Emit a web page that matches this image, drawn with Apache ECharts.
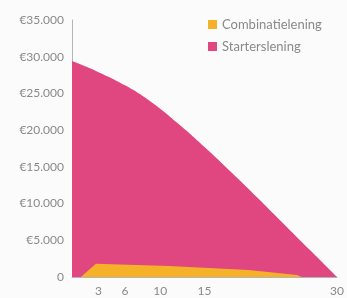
<!DOCTYPE html>
<html>
<head>
<meta charset="utf-8">
<script src="https://cdn.jsdelivr.net/npm/echarts@6/dist/echarts.min.js"></script>
<style>
html, body { margin: 0; padding: 0; background: #fcfbfc; }
#chart { width: 347px; height: 298px; }
</style>
</head>
<body>
<div id="chart"></div>
<script>
// jaren (x) en restschuld in euro's (y)
let starterYears = [0, 3, 6, 9, 12, 15, 18, 21, 24, 27, 30];
let starterValues = [29400, 27900, 26100, 23800, 20900, 17700, 14300, 10800, 7200, 3600, 0];

let combiYears = [1, 2.7, 11, 20, 25.5, 26];
let combiValues = [0, 1800, 1500, 950, 280, 0];

let xTickLabels = [3, 6, 10, 15, 30];
let legendNames = ['Combinatielening', 'Starterslening'];

let pink = '#e0467f';
let orange = '#f5b12a';
let textColor = '#8a8a8a';
let fontFamily = 'Lato, "Open Sans", sans-serif';

function zip(xs, ys) {
    return xs.map(function (x, i) { return [x, ys[i]]; });
}

function euro(v) {
    if (v === 0) {
        return '0';
    }
    return '€' + String(v).replace(/\B(?=(\d{3})+(?!\d))/g, '.');
}

const chart = echarts.init(document.getElementById('chart'));
chart.setOption({
    animation: false,
    backgroundColor: '#fcfbfc',
    textStyle: { fontFamily: fontFamily },
    grid: { left: 72, right: 10, top: 20, bottom: 21 },
    legend: {
        orient: 'vertical',
        left: 203,
        top: 13,
        itemWidth: 9,
        itemHeight: 9,
        itemGap: 9,
        icon: 'rect',
        data: legendNames,
        textStyle: { color: textColor, fontSize: 13, fontFamily: fontFamily }
    },
    xAxis: {
        type: 'value',
        min: 0,
        max: 30,
        interval: 1,
        splitLine: { show: false },
        axisTick: { show: false },
        axisLine: { lineStyle: { color: '#b5b5b5', width: 1 } },
        axisLabel: {
            color: textColor,
            fontSize: 12,
            margin: 8,
            showMaxLabel: true,
            formatter: function (v) {
                return xTickLabels.indexOf(v) >= 0 ? String(v) : '';
            }
        }
    },
    yAxis: {
        type: 'value',
        min: 0,
        max: 35000,
        interval: 5000,
        splitLine: { show: false },
        axisTick: { show: false },
        axisLine: { show: true, lineStyle: { color: '#b5b5b5', width: 1 } },
        axisLabel: {
            color: textColor,
            fontSize: 12,
            margin: 8,
            formatter: euro
        }
    },
    series: [
        {
            name: 'Starterslening',
            type: 'line',
            data: zip(starterYears, starterValues),
            smooth: true,
            symbol: 'none',
            lineStyle: { width: 0 },
            itemStyle: { color: pink },
            areaStyle: { color: pink, opacity: 1 },
            z: 2
        },
        {
            name: 'Combinatielening',
            type: 'line',
            data: zip(combiYears, combiValues),
            symbol: 'none',
            lineStyle: { width: 0 },
            itemStyle: { color: orange },
            areaStyle: { color: orange, opacity: 1 },
            z: 3
        }
    ]
});
</script>
</body>
</html>
